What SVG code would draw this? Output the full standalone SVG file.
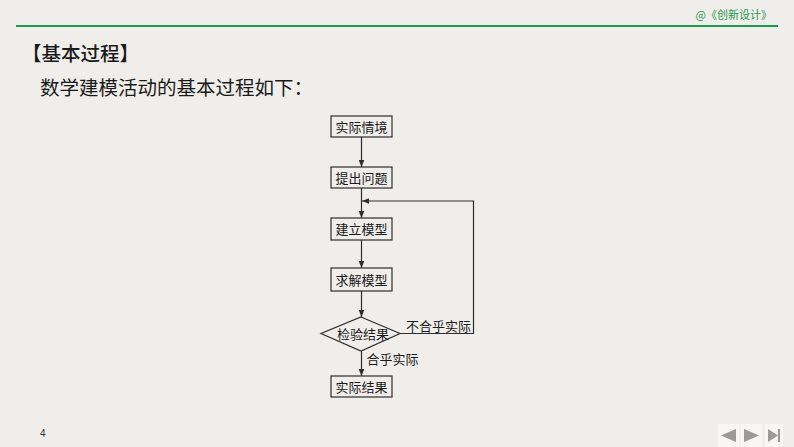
<svg xmlns="http://www.w3.org/2000/svg" width="794" height="447" viewBox="0 0 794 447">
<defs>
<style>
.bg{fill:#f0eeeb}
.box{fill:none;stroke:#2e2e2e;stroke-width:1.2}
.lbl{font-family:"Liberation Serif","Noto Sans CJK SC",serif;font-size:13px;fill:#1a1a1a;text-anchor:middle}
.edge{fill:none;stroke:#2e2e2e;stroke-width:1.2}
.nav{fill:#9a9a9a}
.navbg{fill:#f7f6f4}
</style>
<marker id="ah" viewBox="0 0 10 10" refX="10" refY="5" markerWidth="7" markerHeight="7" markerUnits="userSpaceOnUse" orient="auto">
<path d="M0,1 L10,5 L0,9 Z" fill="#2e2e2e"/>
</marker>
</defs>
<rect class="bg" x="0" y="0" width="794" height="447"/>
<text x="772" y="19" text-anchor="end" font-family="Noto Sans CJK SC,sans-serif" font-size="11" fill="#1f9a4c">@《创新设计》</text>
<line x1="16" y1="26" x2="778" y2="26" stroke="#1f9a4c" stroke-width="2"/>
<text x="22" y="61" font-family="Noto Sans CJK SC,sans-serif" font-size="19.5" font-weight="500" fill="#1a1a1a">【基本过程】</text>
<text x="40" y="95" font-family="Noto Sans CJK SC,sans-serif" font-size="19.5" fill="#1a1a1a">数学建模活动的基本过程如下：</text>

<g id="connectors">
<line class="edge" x1="361.5" y1="137" x2="361.5" y2="167" marker-end="url(#ah)"/>
<line class="edge" x1="361.5" y1="188" x2="361.5" y2="218" marker-end="url(#ah)"/>
<line class="edge" x1="361.5" y1="240" x2="361.5" y2="268" marker-end="url(#ah)"/>
<line class="edge" x1="361.5" y1="291" x2="361.5" y2="317" marker-end="url(#ah)"/>
<line class="edge" x1="361.5" y1="351" x2="361.5" y2="376" marker-end="url(#ah)"/>
<polyline class="edge" points="400,333.5 473.5,333.5 473.5,201 362,201" marker-end="url(#ah)"/>
<text class="lbl" x="438.5" y="331">不合乎实际</text>
<text class="lbl" x="392.5" y="364">合乎实际</text>
</g>

<g id="n1"><rect class="box" x="331" y="116" width="61" height="21"/><text class="lbl" x="361.5" y="131.5">实际情境</text></g>
<g id="n2"><rect class="box" x="331" y="167" width="61" height="21"/><text class="lbl" x="361.5" y="182.5">提出问题</text></g>
<g id="n3"><rect class="box" x="331" y="218" width="61" height="22"/><text class="lbl" x="361.5" y="234">建立模型</text></g>
<g id="n4"><rect class="box" x="331" y="268" width="61" height="23"/><text class="lbl" x="361.5" y="284.5">求解模型</text></g>
<g id="n5"><polygon class="box" points="361,317 400,333.5 361,351 321,333.5"/><text class="lbl" x="363" y="338.5" font-size="14">检验结果</text></g>
<g id="n6"><rect class="box" x="331" y="376" width="61" height="21"/><text class="lbl" x="361.5" y="391.5">实际结果</text></g>

<text x="40" y="437" font-family="Liberation Sans,sans-serif" font-size="10" fill="#333">4</text>
<rect class="navbg" x="718" y="424" width="21" height="23"/>
<rect class="navbg" x="741" y="424" width="21" height="23"/>
<rect class="navbg" x="765" y="424" width="18" height="23"/>
<polygon class="nav" points="736,429 736,442 721,435.5"/>
<polygon class="nav" points="744,429 744,442 759,435.5"/>
<polygon class="nav" points="768,429 768,442 778,435.5"/>
<rect class="nav" x="778" y="429" width="2" height="13"/>
</svg>
